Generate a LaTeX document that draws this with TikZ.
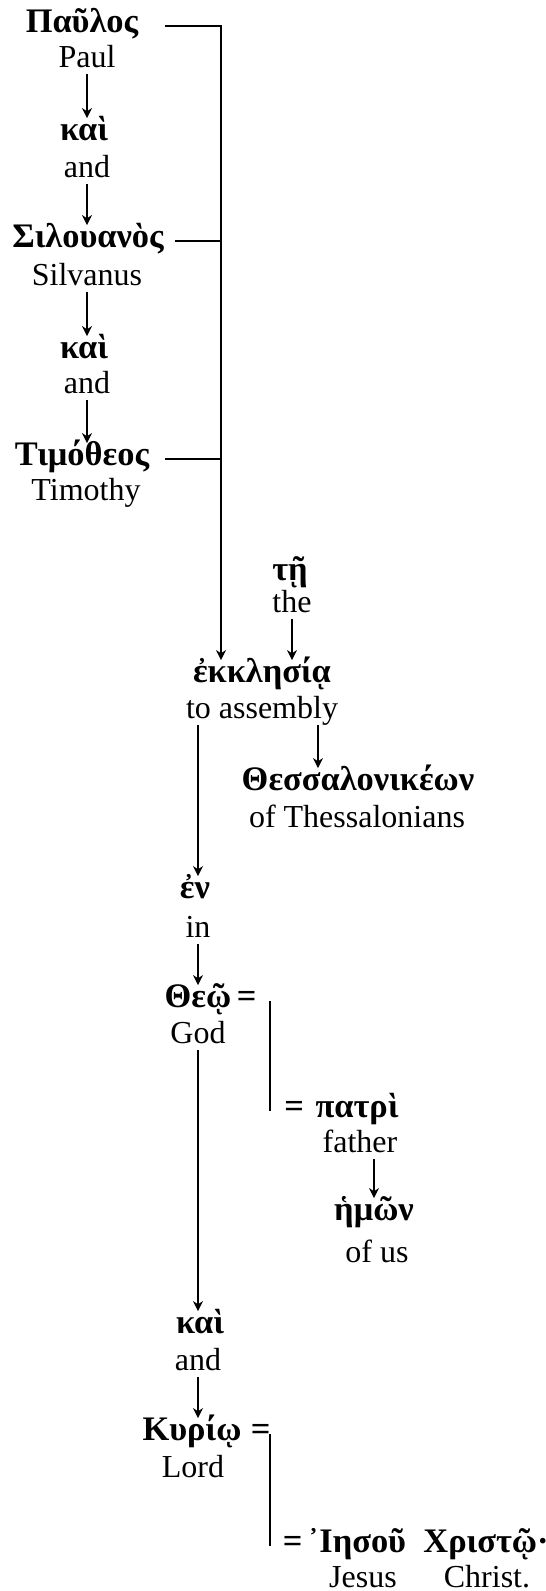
\documentclass[tikz,border=0pt]{standalone}
\usepackage{fontspec}
\setmainfont{Liberation Serif}
\usetikzlibrary{arrows.meta}

\begin{document}
\begin{tikzpicture}[x=0.5pt,y=-0.5pt,line width=0.75pt,>={Stealth[length=5pt,width=5pt]}]
        \tikzstyle{gk} = [anchor=base,inner sep=1pt,text height=0.96em,text depth=0.38em,font=\fontsize{17.2}{20}\selectfont\bfseries]
        \tikzstyle{en} = [anchor=base,inner sep=1pt,text height=0.7em,text depth=0.2em,font=\fontsize{16}{18}\selectfont]
        \useasboundingbox (0,0) rectangle (546,1591);
        % subjects
        \node[gk] (paulos) at (82,32) {Παῦλος};
        \node[en] (paul) at (87,67) {Paul};
        \node[gk] (kaiA) at (84,140) {καὶ};
        \node[en] (andA) at (87,177) {and};
        \node[gk] (silouanos) at (88,247) {Σιλουανὸς};
        \node[en] (silvanus) at (87,285) {Silvanus};
        \node[gk] (kaiB) at (84,358) {καὶ};
        \node[en] (andB) at (87,393) {and};
        \node[gk] (timotheos) at (82,465) {Τιμόθεος};
        \node[en] (timothy) at (86,500) {Timothy};
        % addressee
        \node[gk] (te) at (290,580) {τῇ};
        \node[en] (the) at (292,612) {the};
        \node[gk] (ekklesia) at (262,682) {ἐκκλησίᾳ};
        \node[en] (assembly) at (262,718) {to assembly};
        \node[gk] (thess) at (358,790) {Θεσσαλονικέων};
        \node[en] (thessalonians) at (357,827) {of Thessalonians};
        \node[gk] (en) at (195,898) {ἐν};
        \node[en] (in) at (198,937) {in};
        \node[gk] (theo) at (198,1007) {Θεῷ};
        \node[gk,anchor=base west] (eqA) at (theo.base east) {=};
        \node[en] (god) at (198,1043) {God};
        \node[gk] (patri) at (357,1117) {πατρὶ};
        \node[gk,anchor=base east,xshift=-3pt] (eqB) at (patri.base west) {=};
        \node[en] (father) at (360,1152) {father};
        \node[gk] (hemon) at (374,1220) {ἡμῶν};
        \node[en] (ofus) at (377,1262) {of us};
        \node[gk] (kaiC) at (200,1333) {καὶ};
        \node[en] (andC) at (198,1370) {and};
        \node[gk] (kyrio) at (192,1440) {Κυρίῳ};
        \node[gk,anchor=base west,xshift=2pt] (eqC) at (kyrio.base east) {=};
        \node[en] (lord) at (193,1477) {Lord};
        \node[gk] (iesou) at (357,1552) {᾿Ιησοῦ};
        \node[gk,anchor=base east] (eqD) at (iesou.base west) {=};
        \node[en] (jesus) at (363,1587) {Jesus};
        \node[gk] (christo) at (486,1552) {Χριστῷ·};
        \node[en] (christ) at (487,1587) {Christ.};
        % bracket of the three names
        \draw[->] (paulos.east -| 165,0) -- (paulos.east -| 221,0) -- (ekklesia.north -| 221,0);
        \draw (silouanos.east -| 175,0) -- (silouanos.east -| 221,0);
        \draw (timotheos.east -| 165,0) -- (timotheos.east -| 221,0);
        % chains
        \draw[->] (paul.south) -- (paul.south |- kaiA.north);
        \draw[->] (andA.south) -- (andA.south |- silouanos.north);
        \draw[->] (silvanus.south) -- (silvanus.south |- kaiB.north);
        \draw[->] (andB.south) -- (andB.south |- timotheos.north);
        \draw[->] (the.south) -- (the.south |- ekklesia.north);
        \draw[->] (assembly.south -| 318,0) -- (thess.north -| 318,0);
        \draw[->] (assembly.south -| in) -- (en.north -| in);
        \draw[->] (in.south) -- (in.south |- theo.north);
        \draw[->] (father.south -| hemon) -- (hemon.north);
        \draw[->] (god.south) -- (god.south |- kaiC.north);
        \draw[->] (andC.south) -- (andC.south |- kyrio.north);
        % apposition bars
        \draw (eqA.east -| 270,0) -- (eqB.west -| 270,0);
        \draw (eqC.east -| 270,0) -- (eqD.west -| 270,0);
       \end{tikzpicture}
\end{document}
